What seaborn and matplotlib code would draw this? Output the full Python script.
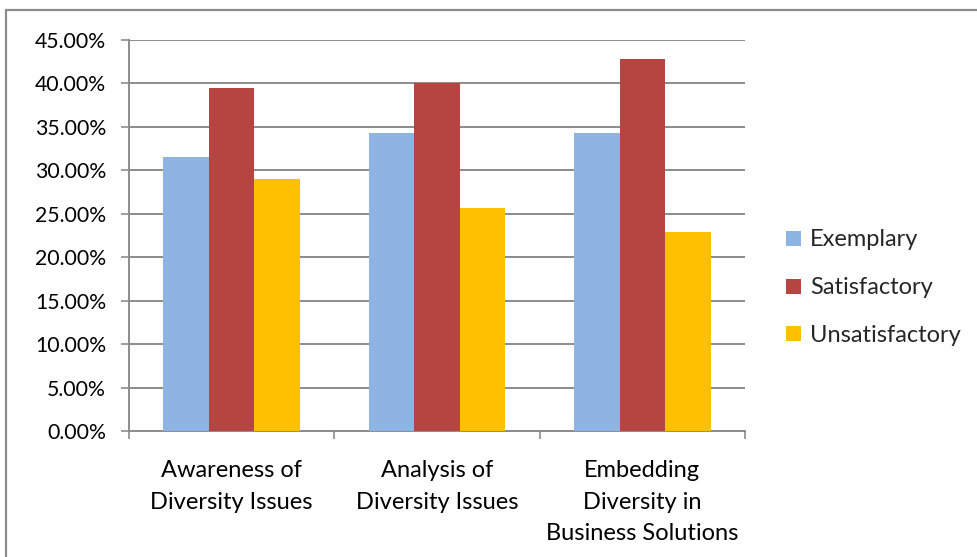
import matplotlib
matplotlib.use("Agg")
import matplotlib.pyplot as plt
import matplotlib.ticker as mticker
from matplotlib.patches import Rectangle
import seaborn as sns
import pandas as pd

# Assessment results by criterion (share of students, %)
categories = [
    "Awareness of\nDiversity Issues",
    "Analysis of\nDiversity Issues",
    "Embedding\nDiversity in\nBusiness Solutions",
]
ratings = ["Exemplary", "Satisfactory", "Unsatisfactory"]
exemplary = [31.58, 34.29, 34.29]
satisfactory = [39.47, 40.00, 42.86]
unsatisfactory = [28.95, 25.71, 22.86]

colors = ["#8EB4E3", "#B64541", "#FFC000"]

df = pd.DataFrame({
    "criterion": categories * 3,
    "rating": [r for r in ratings for _ in categories],
    "share": exemplary + satisfactory + unsatisfactory,
})

sns.set_theme(style="white")
plt.rcParams["font.family"] = ["Lato", "DejaVu Sans"]

W, H = 978, 557
FS = 17
fig = plt.figure(figsize=(W / 100, H / 100), dpi=100)
ax = fig.add_axes([129 / W, 1 - 431 / H, (745 - 129) / W, (431 - 40) / H])

sns.barplot(data=df, x="criterion", y="share", hue="rating", order=categories,
            hue_order=ratings, palette=colors, width=0.665, gap=0,
            saturation=1, edgecolor="none", linewidth=0, ax=ax, zorder=3)

grid_col = "#8C8C8C"
ax.set_ylim(0, 45)
ax.set_xlim(-0.5, 2.5)
ax.yaxis.set_major_locator(mticker.MultipleLocator(5))
ax.yaxis.set_major_formatter(mticker.FuncFormatter(lambda v, p: f"{v:.2f}%"))
ax.grid(axis="y", color=grid_col, linewidth=1.4, zorder=0)
ax.set_axisbelow(True)
ax.set_xlabel("")
ax.set_ylabel("")

for side in ["top", "right"]:
    ax.spines[side].set_visible(False)
for side in ["left", "bottom"]:
    ax.spines[side].set_color(grid_col)
    ax.spines[side].set_linewidth(1.4)

ax.tick_params(axis="y", which="major", left=True, length=5.5, width=1.2,
               color=grid_col, pad=11, labelsize=15.3, labelcolor="#000000")
ax.tick_params(axis="x", which="major", bottom=False, pad=15, labelsize=FS,
               labelcolor="#000000")
ax.set_xticks(range(len(categories)))
ax.set_xticklabels(categories, linespacing=1.62)
ax.set_xticks([-0.5, 0.5, 1.5, 2.5], minor=True)
ax.tick_params(axis="x", which="minor", bottom=True, length=5.5, width=1.2,
               color=grid_col)

handles, labels = ax.get_legend_handles_labels()
ax.legend(handles, labels, loc="center left", bbox_to_anchor=(1.052, 0.366),
          frameon=False, fontsize=FS, handlelength=0.6, handleheight=0.6,
          handletextpad=0.4, labelspacing=1.14, borderaxespad=0)

# outer chart border
fig.patches.append(Rectangle((6.5 / W, -0.1), 1.2, (1 - 9.5 / H) + 0.1,
                             transform=fig.transFigure, fill=False,
                             edgecolor="#8C8C8C", linewidth=1.6))

fig.savefig("out.png", dpi=100)
